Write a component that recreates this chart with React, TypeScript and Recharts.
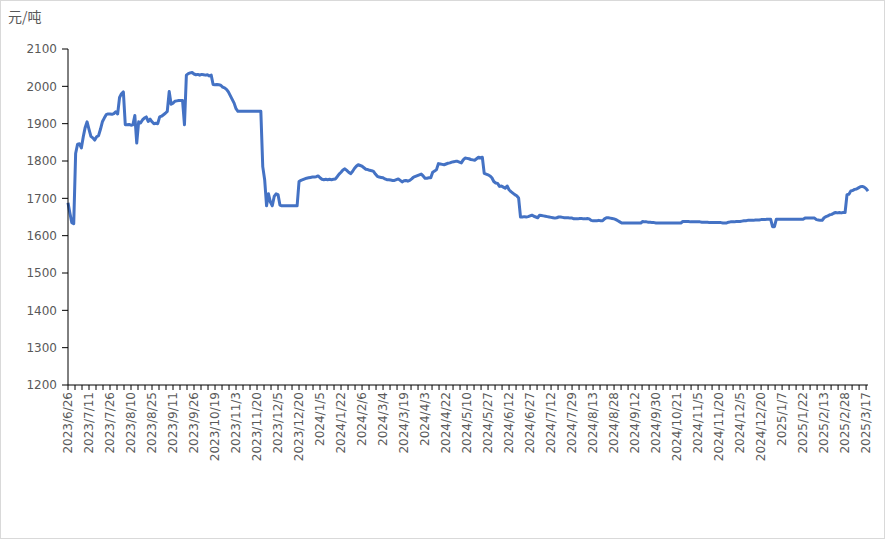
import { LineChart, Line, XAxis, YAxis } from 'recharts'

// 日期标签（每11个交易日一个）
const dateLabels = [
  '2023/6/26', '2023/7/11', '2023/7/26', '2023/8/10', '2023/8/25', '2023/9/11',
  '2023/9/26', '2023/10/19', '2023/11/3', '2023/11/20', '2023/12/5', '2023/12/20',
  '2024/1/5', '2024/1/22', '2024/2/6', '2024/3/4', '2024/3/19', '2024/4/3',
  '2024/4/22', '2024/5/10', '2024/5/27', '2024/6/12', '2024/6/27', '2024/7/12',
  '2024/7/29', '2024/8/13', '2024/8/28', '2024/9/12', '2024/9/30', '2024/10/21',
  '2024/11/5', '2024/11/20', '2024/12/5', '2024/12/20', '2025/1/7', '2025/1/22',
  '2025/2/13', '2025/2/28', '2025/3/17',
]

const LABEL_STEP = 11

// 价格（元/吨），按交易日
const prices = [
  1688, 1660, 1635, 1632, 1820, 1845, 1846, 1835, 1865, 1890,
  1905, 1885, 1866, 1862, 1856, 1865, 1868, 1885, 1905, 1915,
  1924, 1926, 1926, 1925, 1927, 1932, 1926, 1970, 1980, 1985,
  1897, 1897, 1898, 1896, 1897, 1922, 1848, 1905, 1902, 1910,
  1915, 1918, 1906, 1912, 1905, 1900, 1901, 1900, 1918, 1920,
  1924, 1928, 1933, 1986, 1952, 1955, 1960, 1961, 1962, 1962,
  1962, 1897, 2030, 2034, 2036, 2037, 2033, 2031, 2032, 2030,
  2032, 2031, 2030, 2031, 2028, 2030, 2005, 2004, 2005, 2004,
  2003, 1998, 1996, 1992, 1985, 1975, 1965, 1955, 1940, 1933,
  1933, 1933, 1933, 1933, 1933, 1933, 1933, 1933, 1933, 1933,
  1933, 1933, 1785, 1750, 1680, 1712, 1690, 1680, 1705, 1712,
  1710, 1682, 1680, 1680, 1680, 1680, 1680, 1680, 1680, 1680,
  1680, 1745, 1748, 1750, 1752, 1754, 1755, 1756, 1757, 1757,
  1758, 1760, 1755, 1751, 1750, 1751, 1750, 1751, 1750, 1751,
  1752, 1758, 1765, 1770, 1776, 1779, 1775, 1770, 1766, 1772,
  1780, 1786, 1790, 1788, 1786, 1782, 1778, 1777, 1775, 1774,
  1772, 1765, 1759, 1757, 1756, 1755, 1752, 1750, 1750, 1749,
  1748, 1748, 1750, 1752, 1748, 1744, 1747, 1748, 1746, 1748,
  1752, 1757, 1759, 1761, 1763, 1765, 1760, 1754, 1754, 1755,
  1755, 1770, 1773, 1777, 1793, 1792, 1791, 1790, 1792, 1794,
  1795, 1797, 1798, 1799, 1799, 1797, 1795, 1803, 1808, 1807,
  1806, 1804, 1803, 1802, 1806, 1810, 1808, 1810, 1767, 1765,
  1763, 1760, 1755, 1745, 1741, 1740, 1732, 1733, 1730, 1727,
  1733, 1723, 1718, 1714, 1710, 1707, 1701, 1650, 1650, 1651,
  1650, 1651, 1653, 1655, 1652, 1650, 1648, 1655, 1654, 1653,
  1652, 1651, 1650, 1649, 1648, 1647, 1648, 1650, 1650, 1649,
  1648, 1648, 1648, 1647, 1647, 1645, 1645, 1645, 1646, 1646,
  1645, 1645, 1646, 1645, 1641, 1640, 1640, 1640, 1641, 1640,
  1640, 1645, 1648, 1648, 1647, 1646, 1645, 1643, 1640, 1637,
  1634, 1634, 1634, 1634, 1634, 1634, 1634, 1634, 1634, 1634,
  1634, 1638, 1637, 1637, 1636, 1636, 1635, 1635, 1634, 1634,
  1634, 1634, 1634, 1634, 1634, 1634, 1634, 1634, 1634, 1634,
  1634, 1634, 1638, 1638, 1638, 1638, 1637, 1637, 1637, 1637,
  1637, 1637, 1636, 1636, 1636, 1636, 1635, 1635, 1635, 1635,
  1635, 1635, 1635, 1634, 1634, 1634, 1636, 1637, 1637, 1637,
  1638, 1638, 1638, 1639, 1640, 1640, 1641, 1641, 1641, 1641,
  1642, 1642, 1642, 1643, 1643, 1643, 1644, 1644, 1644, 1624,
  1624, 1644, 1644, 1644, 1644, 1644, 1644, 1644, 1644, 1644,
  1644, 1644, 1644, 1644, 1644, 1644, 1647, 1647, 1647, 1647,
  1647, 1647, 1643, 1642, 1641, 1641, 1648, 1651, 1653, 1656,
  1657, 1660, 1662, 1661, 1662, 1661, 1662, 1662, 1710, 1711,
  1720, 1721, 1724, 1725, 1728, 1731, 1732, 1730, 1726, 1719,
]

const yTicks = [1200, 1300, 1400, 1500, 1600, 1700, 1800, 1900, 2000, 2100]

const TEXT_COLOR = '#595959'
const FONT = '"DejaVu Sans", Verdana, sans-serif'

const data = prices.map((value, i) => ({ i, value }))

// 每个标签间隔3个小刻度
const xTicks: number[] = []
for (let k = 0; k <= (dateLabels.length - 1) * 3; k++) {
  xTicks.push((k * LABEL_STEP) / 3)
}

function DateTick(props: any) {
  const { x, y, payload } = props
  const pos = payload.value / LABEL_STEP
  const idx = Math.round(pos)
  if (Math.abs(pos - idx) > 1e-6 || !dateLabels[idx]) return <g />
  return (
    <text
      x={x}
      y={y}
      transform={`rotate(-90, ${x}, ${y})`}
      textAnchor="end"
      dominantBaseline="central"
      fill={TEXT_COLOR}
      fontSize={12}
      fontFamily={FONT}
    >
      {dateLabels[idx]}
    </text>
  )
}

export default function App() {
  return (
    <div
      style={{
        position: 'absolute',
        left: 0,
        top: 0,
        width: 885,
        height: 539,
        boxSizing: 'border-box',
        border: '1px solid #d9d9d9',
        background: '#fff',
      }}
    >
      <div
        style={{
          position: 'absolute',
          left: 7,
          top: 5,
          fontSize: 14,
          fontFamily: '"Noto Sans CJK SC", sans-serif',
          color: TEXT_COLOR,
        }}
      >
        元/吨
      </div>
      <div style={{ position: 'absolute', left: 0, top: 0 }}>
        <LineChart
          width={883}
          height={537}
          data={data}
          margin={{ top: 48, right: 16, left: 0, bottom: 0 }}
        >
          <XAxis
            dataKey="i"
            type="number"
            domain={[0, prices.length - 1]}
            ticks={xTicks}
            interval={0}
            height={153}
            tickSize={5}
            tickMargin={2}
            stroke="#000"
            tickLine={{ stroke: '#000' }}
            tick={<DateTick />}
          />
          <YAxis
            type="number"
            domain={[1200, 2100]}
            ticks={yTicks}
            interval={0}
            width={67}
            tickSize={6}
            tickMargin={5}
            stroke="#000"
            tickLine={{ stroke: '#000' }}
            tick={{ fill: TEXT_COLOR, fontSize: 12, fontFamily: FONT }}
          />
          <Line
            type="linear"
            dataKey="value"
            stroke="#4472C4"
            strokeWidth={3}
            strokeLinejoin="round"
            dot={false}
            activeDot={false}
            isAnimationActive={false}
          />
        </LineChart>
      </div>
    </div>
  )
}
